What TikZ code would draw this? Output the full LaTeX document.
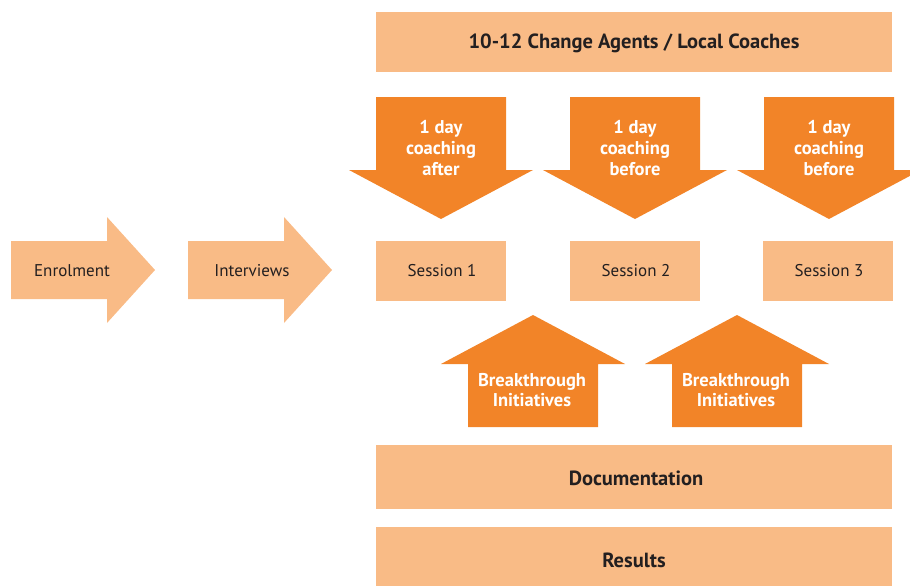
\documentclass[tikz,border=0pt]{standalone}
\usepackage{fontspec}
\setmainfont{PT Sans}
\definecolor{lightor}{HTML}{F9BB86}
\definecolor{darkor}{HTML}{F28428}
\definecolor{txt}{HTML}{231F20}
\begin{document}
\begin{tikzpicture}[x=1pt,y=-1pt,
  plain/.style={text=txt,font=\fontsize{17}{20}\selectfont,align=center},
  heavy/.style={text=txt,font=\fontsize{20.5}{24}\selectfont\bfseries,align=center},
  white/.style={text=white,font=\fontsize{18.5}{21}\selectfont\bfseries,align=center}]
\useasboundingbox (0,0) rectangle (910,586);
% right arrows
\fill[lightor] (11,241) -- (107,241) -- (107,217) -- (155,270) -- (107,323) -- (107,299) -- (11,299) -- cycle;
\fill[lightor] (188,241) -- (284,241) -- (284,217) -- (332,270) -- (284,323) -- (284,299) -- (188,299) -- cycle;
\node[plain] (enrol) at (72,271) {Enrolment};
\node[plain] (interv) at (252,271) {Interviews};
% top box
\fill[lightor] (376,12) rectangle (892,72);
\node[heavy] (agents) at (634,43) {10-12 Change Agents / Local Coaches};
% down arrows
\foreach \cx in {441,635,829}{
  \fill[darkor] (\cx-65,97) -- (\cx+65,97) -- (\cx+65,170) -- (\cx+92,170) -- (\cx,219) -- (\cx-92,170) -- (\cx-65,170) -- cycle;
}
\node[white] (c1) at (441,148) {1 day\\coaching\\after};
\node[white] (c2) at (635,148) {1 day\\coaching\\before};
\node[white] (c3) at (829,148) {1 day\\coaching\\before};
% sessions
\fill[lightor] (376,241) rectangle (506,301);
\fill[lightor] (570,241) rectangle (700,301);
\fill[lightor] (763,241) rectangle (893,301);
\node[plain] (s1) at (442,271) {Session 1};
\node[plain] (s2) at (636,271) {Session 2};
\node[plain] (s3) at (829,271) {Session 3};
% up arrows
\foreach \cx in {533,737}{
  \fill[darkor] (\cx-65,427) -- (\cx+65,427) -- (\cx+65,364) -- (\cx+92,364) -- (\cx,315) -- (\cx-92,364) -- (\cx-65,364) -- cycle;
}
\node[white,font=\fontsize{18.5}{20}\selectfont\bfseries] (b1) at (532,390) {Breakthrough\\Initiatives};
\node[white,font=\fontsize{18.5}{20}\selectfont\bfseries] (b2) at (736,390) {Breakthrough\\Initiatives};
% bottom boxes
\fill[lightor] (376,445) rectangle (892,509);
\node[heavy] (doc) at (636,478) {Documentation};
\fill[lightor] (376,527) rectangle (892,590);
\node[heavy] (res) at (634,560) {Results};
\end{tikzpicture}
\end{document}
